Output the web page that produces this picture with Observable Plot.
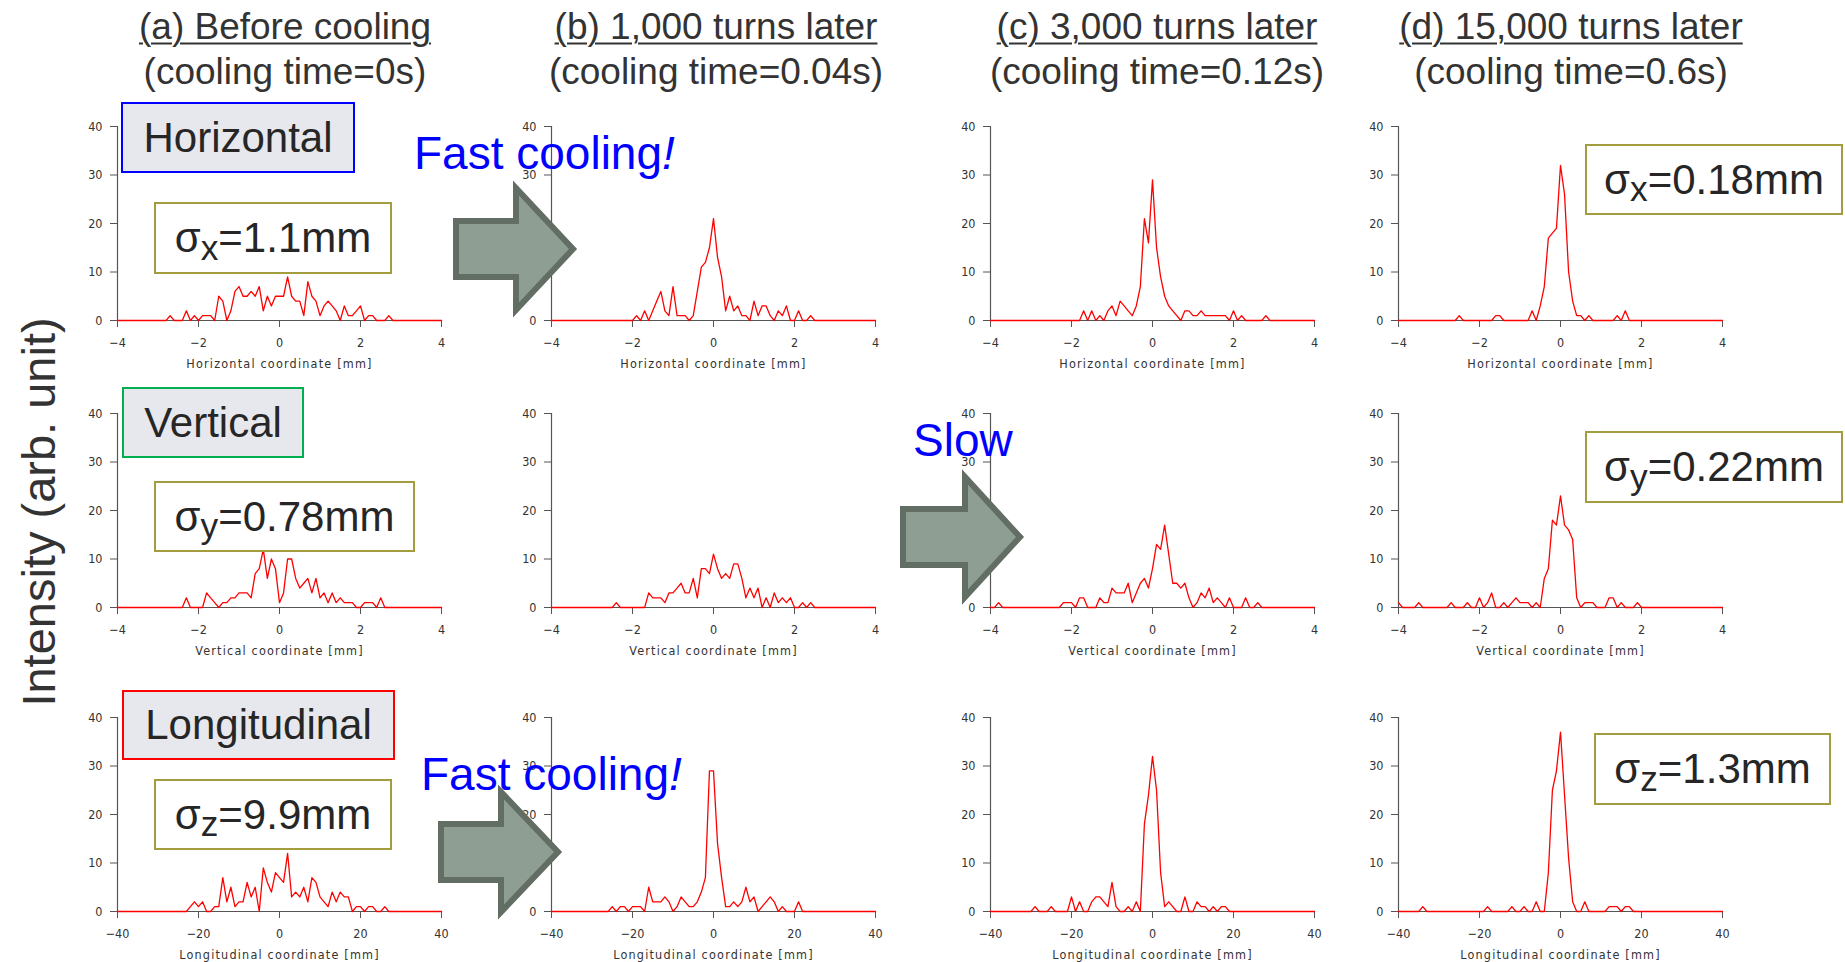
<!DOCTYPE html>
<html><head><meta charset="utf-8">
<script src="https://cdn.jsdelivr.net/npm/d3@7"></script>
<script src="https://cdn.jsdelivr.net/npm/@observablehq/plot@0.6"></script>
<style>
html,body{margin:0;padding:0;background:#fff;}
#page{position:relative;width:1845px;height:962px;overflow:hidden;font-family:"Liberation Sans",Arial,sans-serif;}
.panel{position:absolute;}
.panel svg [aria-label="x-axis label"] text{letter-spacing:1.2px;}
.t{position:absolute;white-space:nowrap;line-height:1;}
.box{position:absolute;box-sizing:border-box;display:flex;align-items:center;justify-content:center;white-space:nowrap;color:#262626;font-size:42px;line-height:1;}
.lab{background:#e7e8ed;border-width:2px;border-style:solid;}
.sig{background:#fff;border:2px solid #a39d40;}
.sig .s{font-size:0.84em;position:relative;top:0.22em;}
</style></head>
<body><div id="page"></div>
<script>
// ---- data: intensity per bin (arb. unit) ----
const transverseX = [-4.0,-3.9,-3.8,-3.7,-3.6,-3.5,-3.4,-3.3,-3.2,-3.1,-3.0,-2.9,-2.8,-2.7,-2.6,-2.5,-2.4,-2.3,-2.2,-2.1,-2.0,-1.9,-1.8,-1.7,-1.6,-1.5,-1.4,-1.3,-1.2,-1.1,-1.0,-0.9,-0.8,-0.7,-0.6,-0.5,-0.4,-0.3,-0.2,-0.1,0.0,0.1,0.2,0.3,0.4,0.5,0.6,0.7,0.8,0.9,1.0,1.1,1.2,1.3,1.4,1.5,1.6,1.7,1.8,1.9,2.0,2.1,2.2,2.3,2.4,2.5,2.6,2.7,2.8,2.9,3.0,3.1,3.2,3.3,3.4,3.5,3.6,3.7,3.8,3.9,4.0];
const longitudinalX = [-40,-39,-38,-37,-36,-35,-34,-33,-32,-31,-30,-29,-28,-27,-26,-25,-24,-23,-22,-21,-20,-19,-18,-17,-16,-15,-14,-13,-12,-11,-10,-9,-8,-7,-6,-5,-4,-3,-2,-1,0,1,2,3,4,5,6,7,8,9,10,11,12,13,14,15,16,17,18,19,20,21,22,23,24,25,26,27,28,29,30,31,32,33,34,35,36,37,38,39,40];

const hor0 = [0,0,0,0,0,0,0,0,0,0, 0,0,0,1,0,0,0,2,0,1, 0,1,1,1,0,5,4,0,2,6, 7,5,5,6,5,7,2,5,3,5, 5,5,9,5,4,4,1,8,5,4, 1,3,4,3,2,0,3,1,1,2, 3,0,1,1,0,0,0,1,0,0, 0,0,0,0,0,0,0,0,0,0, 0];
const hor1k = [0,0,0,0,0,0,0,0,0,0, 0,0,0,0,0,0,0,0,0,0, 0,1,0,2,0,2,4,6,2,1, 7,1,1,1,0,1,6,11,12,15, 21,13,9,2,5,2,3,1,1,0, 4,1,3,3,1,0,2,1,3,0, 0,2,0,0,1,0,0,0,0,0, 0,0,0,0,0,0,0,0,0,0, 0];
const hor3k = [0,0,0,0,0,0,0,0,0,0, 0,0,0,0,0,0,0,0,0,0, 0,0,0,2,0,2,0,1,0,2, 3,1,4,3,2,1,3,7,21,16, 29,15,9,5,3,2,1,0,2,2, 1,1,2,1,1,1,1,1,1,0, 2,0,1,0,0,0,0,0,1,0, 0,0,0,0,0,0,0,0,0,0, 0];
const hor15k = [0,0,0,0,0,0,0,0,0,0, 0,0,0,0,0,1,0,0,0,0, 0,0,0,0,1,1,0,0,0,0, 0,0,0,2,0,3,7,17,18,19, 32,26,10,4,1,1,0,1,0,0, 0,0,0,0,1,0,2,0,0,0, 0,0,0,0,0,0,0,0,0,0, 0,0,0,0,0,0,0,0,0,0, 0];

const ver0 = [0,0,0,0,0,0,0,0,0,0, 0,0,0,0,0,0,0,2,0,0, 0,0,3,2,1,0,1,1,2,2, 3,3,3,2,7,8,12,6,10,8, 1,3,10,10,6,4,5,6,3,6, 2,3,1,3,1,2,1,1,1,0, 0,1,1,1,0,2,0,0,0,0, 0,0,0,0,0,0,0,0,0,0, 0];
const ver1k = [0,0,0,0,0,0,0,0,0,0, 0,0,0,0,0,0,1,0,0,0, 0,0,0,0,3,2,2,2,1,3, 3,4,5,3,3,6,2,8,8,7, 11,8,6,7,6,9,9,6,2,4, 2,4,0,2,0,3,1,2,1,2, 0,0,1,0,1,0,0,0,0,0, 0,0,0,0,0,0,0,0,0,0, 0];
const ver3k = [0,0,1,0,0,0,0,0,0,0, 0,0,0,0,0,0,0,0,1,1, 1,0,2,2,0,0,0,2,1,1, 4,3,3,3,5,1,3,5,6,4, 8,13,12,17,11,5,5,4,5,2, 0,1,3,2,4,1,2,1,0,2, 0,0,0,2,0,0,1,0,0,0, 0,0,0,0,0,0,0,0,0,0, 0];
const ver15k = [1,0,0,0,0,1,0,0,0,0, 0,0,0,1,0,0,0,1,0,0, 2,0,1,3,0,0,1,0,1,2, 1,1,1,0,1,0,6,8,18,17, 23,17,16,14,2,0,1,1,1,0, 0,0,2,2,0,1,0,0,0,1, 0,0,0,0,0,0,0,0,0,0, 0,0,0,0,0,0,0,0,0,0, 0];

const lon0 = [0,0,0,0,0,0,0,0,0,0, 0,0,0,0,0,0,0,0,1,2, 1,2,0,0,1,1,7,2,5,1, 2,2,6,3,5,0,9,6,4,8, 7,6,12,3,4,3,5,2,7,6, 3,2,1,4,2,4,3,3,0,1, 1,0,1,1,0,0,1,0,0,0, 0,0,0,0,0,0,0,0,0,0, 0];
const lon1k = [0,0,0,0,0,0,0,0,0,0, 0,0,0,0,0,1,0,1,1,0, 1,1,1,0,5,2,2,2,3,2, 0,1,3,2,1,1,2,4,7,29, 29,14,7,1,1,2,1,2,5,2, 3,0,1,2,3,2,0,1,0,0, 0,2,0,0,0,0,0,0,0,0, 0,0,0,0,0,0,0,0,0,0, 0];
const lon3k = [0,0,0,0,0,0,0,0,0,0, 0,1,0,0,0,1,0,0,0,0, 3,0,2,0,0,2,3,3,2,1, 6,1,0,0,1,0,2,0,18,24, 32,25,8,1,2,1,0,0,3,0, 0,2,1,1,0,1,0,1,1,0, 0,0,0,0,0,0,0,0,0,0, 0,0,0,0,0,0,0,0,0,0, 0];
const lon15k = [0,0,0,0,0,0,1,0,0,0, 0,0,0,0,0,0,0,0,0,0, 0,0,1,0,0,0,0,0,1,0, 0,1,0,0,2,0,0,8,25,29, 37,24,11,2,0,0,2,0,0,0, 0,0,1,1,1,0,1,1,0,0, 0,0,0,0,0,0,0,0,0,0, 0,0,0,0,0,0,0,0,0,0, 0];

const transverseTicks = [-4,-2,0,2,4];
const longitudinalTicks = [-40,-20,0,20,40];
const intensityTicks = [0,10,20,30,40];
const axisLabels = ["Horizontal coordinate [mm]","Vertical coordinate [mm]","Longitudinal coordinate [mm]"];
const columnTitles = ["(a) Before cooling","(b) 1,000 turns later","(c) 3,000 turns later","(d) 15,000 turns later"];
const columnSubtitles = ["(cooling time=0s)","(cooling time=0.04s)","(cooling time=0.12s)","(cooling time=0.6s)"];
const rowNames = ["Horizontal","Vertical","Longitudinal"];
const rowColors = ["#0000ff","#00b050","#ff0000"];

const grid = [
  [hor0, hor1k, hor3k, hor15k],
  [ver0, ver1k, ver3k, ver15k],
  [lon0, lon1k, lon3k, lon15k]
];

// ---- layout ----
const page = document.getElementById("page");
const colL = [116.7, 551.3, 989.7, 1398.3];
const rowT = [126.3, 413.3, 717.0];
const PW = 324, PH = 194;
const ML = 45, MR = 15, MT = 15, MB = 55;

grid.forEach((row, r) => {
  const xs = r < 2 ? transverseX : longitudinalX;
  const xt = r < 2 ? transverseTicks : longitudinalTicks;
  const dom = [xt[0], xt[xt.length-1]];
  row.forEach((vals, c) => {
    const data = vals.map((v, i) => ({x: xs[i], y: v}));
    const chart = Plot.plot({
      width: PW + ML + MR, height: PH + MT + MB,
      marginLeft: ML, marginRight: MR, marginTop: MT, marginBottom: MB,
      x: {domain: dom},
      y: {domain: [0, 40]},
      style: {fontFamily: '"Liberation Sans Narrow","DejaVu Sans Condensed",sans-serif', fontSize: "12.5px", color: "#333", background: "transparent", overflow: "visible"},
      marks: [
        Plot.ruleX([dom[0]], {stroke: "#555", strokeWidth: 1.2}),
        Plot.ruleY([0], {stroke: "#555", strokeWidth: 1.2}),
        Plot.axisY({ticks: intensityTicks, tickSize: 7, tickPadding: 8, label: null, stroke: "#555"}),
        Plot.axisX({ticks: xt, tickSize: 7, tickPadding: 11, label: axisLabels[r], labelAnchor: "center", labelOffset: 47, labelArrow: "none", stroke: "#555"}),
        Plot.line(data, {x: "x", y: "y", stroke: "#ff0000", strokeWidth: 1.3})
      ]
    });
    const div = document.createElement("div");
    div.className = "panel";
    div.style.left = (colL[c] - ML) + "px";
    div.style.top = (rowT[r] - MT) + "px";
    div.appendChild(chart);
    page.appendChild(div);
  });
});

// ---- arrows (decoration) ----
const NS = "http://www.w3.org/2000/svg";
const ov = document.createElementNS(NS, "svg");
ov.setAttribute("width", 1845); ov.setAttribute("height", 962);
ov.style.position = "absolute"; ov.style.left = "0"; ov.style.top = "0";
function arrow(x0, cy, sh, hb, hh, tip) {
  const p = document.createElementNS(NS, "polygon");
  const pts = [[x0,cy-sh],[hb,cy-sh],[hb,cy-hh],[tip,cy],[hb,cy+hh],[hb,cy+sh],[x0,cy+sh]];
  p.setAttribute("points", pts.map(d => d.join(",")).join(" "));
  p.setAttribute("fill", "#8e9e93");
  p.setAttribute("stroke", "#626d63");
  p.setAttribute("stroke-width", 6);
  p.setAttribute("stroke-linejoin", "miter");
  ov.appendChild(p);
}
arrow(456, 249, 28, 516, 61, 573);
arrow(903, 537, 28, 965, 60, 1020);
arrow(441, 852, 28, 501, 60, 558);
page.appendChild(ov);

// ---- texts ----
function text(html, x, y, size, color, anchor, extra) {
  const d = document.createElement("div");
  d.className = "t";
  d.innerHTML = html;
  d.style.left = x + "px"; d.style.top = y + "px";
  d.style.fontSize = size + "px"; d.style.color = color;
  d.style.transform = anchor === "middle" ? "translate(-50%,-50%)" : "translate(0,-50%)";
  if (extra) Object.assign(d.style, extra);
  page.appendChild(d);
}
const titleX = [285, 716, 1157, 1571];
columnTitles.forEach((t, i) => text(t, titleX[i], 26, 37, "#333", "middle", {textDecoration: "underline", textDecorationThickness: "2px", textUnderlineOffset: "4px"}));
columnSubtitles.forEach((t, i) => text(t, titleX[i], 71, 37, "#333", "middle"));

text("Intensity (arb. unit)", 38, 512, 47, "#333", "middle", {transform: "translate(-50%,-50%) rotate(-90deg)"});

text("Fast cooling<i>!</i>", 414, 153, 46, "#0000ff", "start");
text("Slow", 913, 440, 46, "#0000ff", "start");
text("Fast cooling<i>!</i>", 421, 774, 46, "#0000ff", "start");

function box(cls, html, x0, y0, x1, y1, border) {
  const d = document.createElement("div");
  d.className = "box " + cls;
  d.innerHTML = "<span>" + html + "</span>";
  d.style.left = x0 + "px"; d.style.top = y0 + "px";
  d.style.width = (x1 - x0) + "px"; d.style.height = (y1 - y0) + "px";
  if (border) d.style.borderColor = border;
  page.appendChild(d);
}
box("lab", rowNames[0], 121, 102, 355, 173, rowColors[0]);
box("lab", rowNames[1], 122, 387, 304, 458, rowColors[1]);
box("lab", rowNames[2], 122, 690, 395, 760, rowColors[2]);

box("sig", "σ<span class='s'>x</span>=1.1mm", 154, 202, 392, 274);
box("sig", "σ<span class='s'>y</span>=0.78mm", 154, 481, 415, 552);
box("sig", "σ<span class='s'>z</span>=9.9mm", 154, 779, 392, 850);
box("sig", "σ<span class='s'>x</span>=0.18mm", 1585, 144, 1843, 215);
box("sig", "σ<span class='s'>y</span>=0.22mm", 1585, 431, 1843, 503);
box("sig", "σ<span class='s'>z</span>=1.3mm", 1594, 733, 1831, 805);
</script>
</body></html>
